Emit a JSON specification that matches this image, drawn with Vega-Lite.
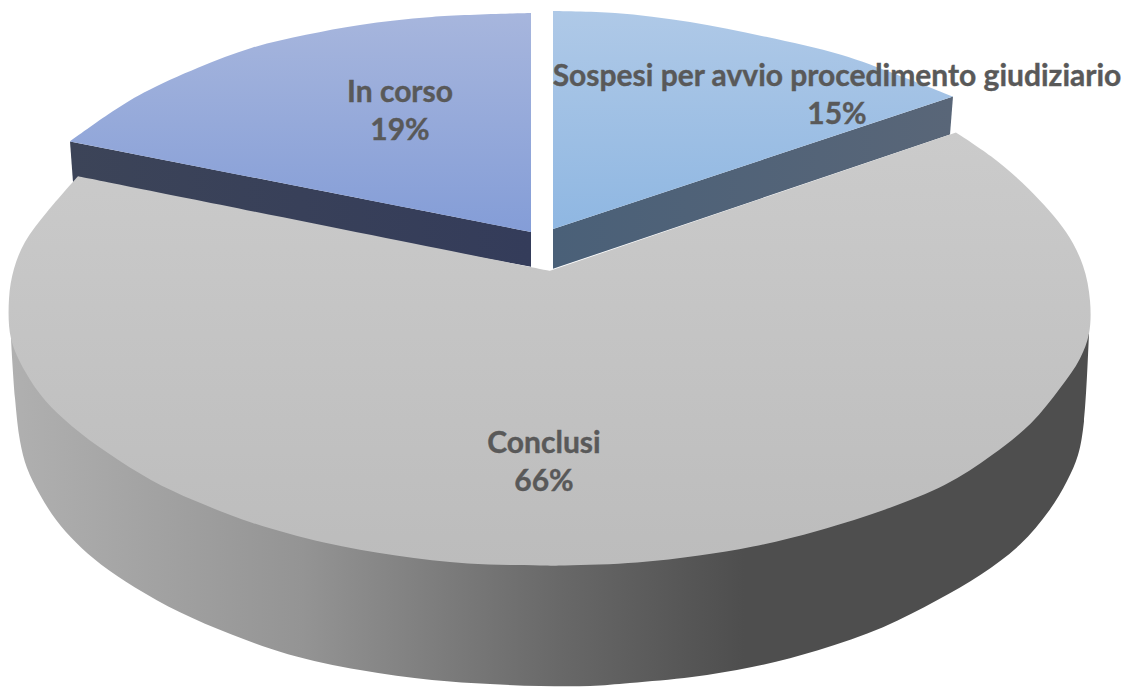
{"$schema":"https://vega.github.io/schema/vega-lite/v6.json","width":1129,"height":687,"padding":0,"autosize":{"type":"fit","contains":"padding"},"background":"white","config":{"view":{"stroke":null}},
"datasets":{
"fianco_conclusi":[{"i":1,"x":11,"y":340},{"i":2,"x":15,"y":400},{"i":3,"x":20,"y":443},{"i":4,"x":27,"y":470},{"i":5,"x":40,"y":497},{"i":6,"x":56,"y":522},{"i":7,"x":76,"y":545},{"i":8,"x":101,"y":567},{"i":9,"x":135,"y":590},{"i":10,"x":180,"y":615},{"i":11,"x":231,"y":637},{"i":12,"x":288,"y":657},{"i":13,"x":360,"y":673},{"i":14,"x":432,"y":683},{"i":15,"x":490,"y":687},{"i":16,"x":540,"y":689},{"i":17,"x":590,"y":689},{"i":18,"x":630,"y":686},{"i":19,"x":692,"y":680},{"i":20,"x":752,"y":670},{"i":21,"x":818,"y":653},{"i":22,"x":883,"y":630},{"i":23,"x":937,"y":603},{"i":24,"x":981,"y":577},{"i":25,"x":1020,"y":547},{"i":26,"x":1049,"y":513},{"i":27,"x":1067,"y":483},{"i":28,"x":1078,"y":457},{"i":29,"x":1084,"y":423},{"i":30,"x":1089,"y":335},{"i":31,"x":1089,"y":335},{"i":32,"x":1040,"y":300},{"i":33,"x":550,"y":300},{"i":34,"x":30,"y":300}],
"piano_conclusi":[{"i":1,"x":550,"y":272},{"i":2,"x":78,"y":177},{"i":3,"x":78,"y":177},{"i":4,"x":47,"y":213},{"i":5,"x":25,"y":243},{"i":6,"x":14,"y":270},{"i":7,"x":9,"y":300},{"i":8,"x":11,"y":340},{"i":9,"x":25,"y":373},{"i":10,"x":45,"y":402},{"i":11,"x":72,"y":428},{"i":12,"x":108,"y":455},{"i":13,"x":151,"y":482},{"i":14,"x":195,"y":503},{"i":15,"x":252,"y":525},{"i":16,"x":324,"y":545},{"i":17,"x":396,"y":558},{"i":18,"x":468,"y":566},{"i":19,"x":540,"y":568},{"i":20,"x":565,"y":568},{"i":21,"x":637,"y":565},{"i":22,"x":699,"y":558},{"i":23,"x":753,"y":549},{"i":24,"x":818,"y":533},{"i":25,"x":890,"y":510},{"i":26,"x":945,"y":487},{"i":27,"x":992,"y":457},{"i":28,"x":1031,"y":425},{"i":29,"x":1060,"y":390},{"i":30,"x":1080,"y":360},{"i":31,"x":1089,"y":335},{"i":32,"x":1090,"y":302},{"i":33,"x":1083,"y":267},{"i":34,"x":1066,"y":233},{"i":35,"x":1029,"y":190},{"i":36,"x":991,"y":157},{"i":37,"x":956,"y":133}],
"fianco_incorso":[{"i":1,"x":70,"y":142},{"i":2,"x":531,"y":233},{"i":3,"x":531,"y":268},{"i":4,"x":73,"y":183}],
"piano_incorso":[{"i":1,"x":531,"y":233},{"i":2,"x":70,"y":142},{"i":3,"x":70,"y":142},{"i":4,"x":108,"y":115},{"i":5,"x":144,"y":93},{"i":6,"x":198,"y":68},{"i":7,"x":252,"y":48},{"i":8,"x":306,"y":35},{"i":9,"x":360,"y":25},{"i":10,"x":432,"y":17},{"i":11,"x":531,"y":13}],
"fianco_sospesi":[{"i":1,"x":553,"y":230},{"i":2,"x":953,"y":97},{"i":3,"x":950,"y":135},{"i":4,"x":553,"y":270}],
"piano_sospesi":[{"i":1,"x":553,"y":230},{"i":2,"x":553,"y":11},{"i":3,"x":553,"y":11},{"i":4,"x":615,"y":13},{"i":5,"x":690,"y":22},{"i":6,"x":766,"y":37},{"i":7,"x":841,"y":55},{"i":8,"x":897,"y":75},{"i":9,"x":953,"y":97}],
"quote":[{"categoria":"In corso","quota":0.19,"x":400,"y":112},{"categoria":"Sospesi per avvio procedimento giudiziario","quota":0.15,"x":837,"y":96},{"categoria":"Conclusi","quota":0.66,"x":544,"y":465}]
},
"encoding":{"x":{"field":"x","type":"quantitative","scale":{"domain":[0,1129],"nice":false,"zero":false},"axis":null},"y":{"field":"y","type":"quantitative","scale":{"domain":[687,0],"nice":false,"zero":false},"axis":null}},
"layer":[
{"data":{"name":"fianco_incorso"},"mark":{"type":"line","strokeWidth":0,"fill":{"gradient":"linear","x1":0,"x2":1,"y1":0,"y2":0,"stops":[{"offset":0,"color":"#3c4458"},{"offset":1,"color":"#343c5a"}]}},"encoding":{"order":{"field":"i"}}},
{"data":{"name":"piano_incorso"},"mark":{"type":"line","interpolate":"catmull-rom","strokeWidth":0,"fill":{"gradient":"linear","x1":0,"x2":0,"y1":0,"y2":1,"stops":[{"offset":0,"color":"#a7b6dd"},{"offset":1,"color":"#849dd7"}]}},"encoding":{"order":{"field":"i"}}},
{"data":{"name":"fianco_sospesi"},"mark":{"type":"line","strokeWidth":0,"fill":{"gradient":"linear","x1":0,"x2":1,"y1":0,"y2":0,"stops":[{"offset":0,"color":"#4a6078"},{"offset":1,"color":"#596678"}]}},"encoding":{"order":{"field":"i"}}},
{"data":{"name":"piano_sospesi"},"mark":{"type":"line","interpolate":"catmull-rom","strokeWidth":0,"fill":{"gradient":"linear","x1":0,"x2":0,"y1":0,"y2":1,"stops":[{"offset":0,"color":"#afc9e7"},{"offset":1,"color":"#8fb7e2"}]}},"encoding":{"order":{"field":"i"}}},
{"data":{"name":"fianco_conclusi"},"mark":{"type":"line","interpolate":"catmull-rom","strokeWidth":0,"fill":{"gradient":"linear","x1":0,"x2":1,"y1":0,"y2":0,"stops":[{"offset":0,"color":"#b0b0b0"},{"offset":0.27,"color":"#949494"},{"offset":0.51,"color":"#686868"},{"offset":0.68,"color":"#4e4e4e"},{"offset":1,"color":"#4e4e4e"}]}},"encoding":{"order":{"field":"i"}}},
{"data":{"name":"piano_conclusi"},"mark":{"type":"line","interpolate":"catmull-rom","strokeWidth":0,"fill":{"gradient":"linear","x1":0,"x2":0,"y1":0,"y2":1,"stops":[{"offset":0,"color":"#cbcbcb"},{"offset":1,"color":"#bcbcbc"}]}},"encoding":{"order":{"field":"i"}}},
{"data":{"name":"quote"},"mark":{"type":"text","font":"Lato","fontWeight":"bold","fontSize":30,"color":"#595959","stroke":"#595959","strokeWidth":0.4,"dy":-19,"align":"center","baseline":"middle"},"encoding":{"text":{"field":"categoria"}}},
{"data":{"name":"quote"},"mark":{"type":"text","font":"Lato","fontWeight":"bold","fontSize":30,"color":"#595959","stroke":"#595959","strokeWidth":0.4,"dy":19,"align":"center","baseline":"middle"},"encoding":{"text":{"field":"quota","type":"quantitative","format":".0%"}}}
]}
